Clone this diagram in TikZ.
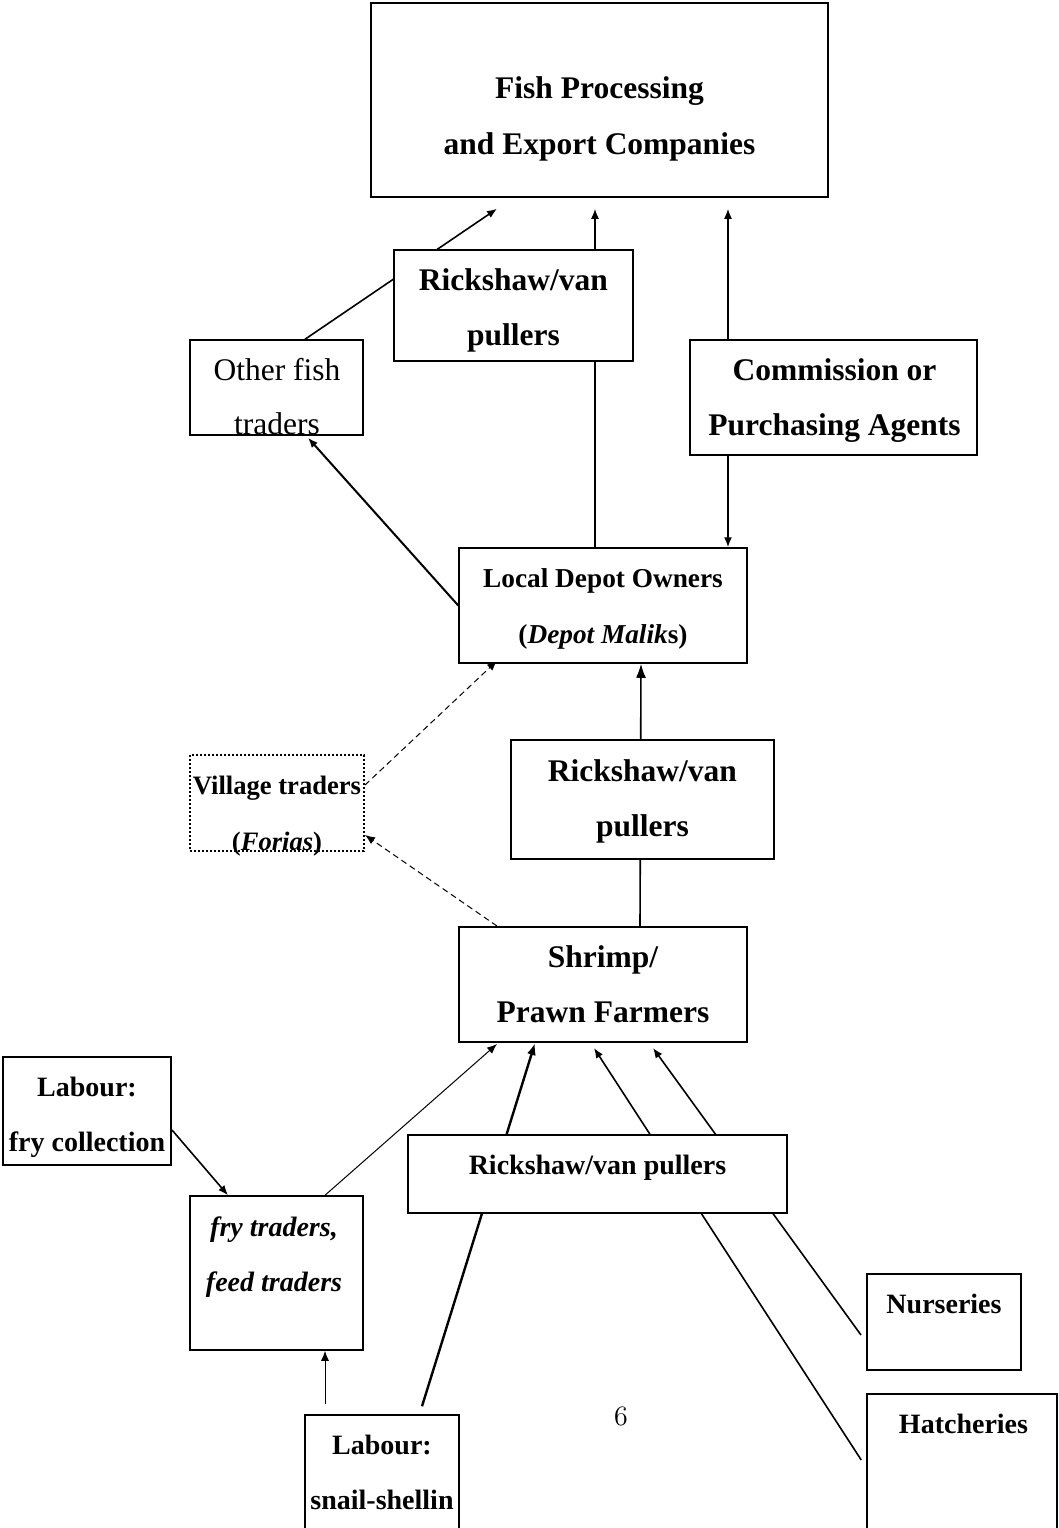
\documentclass[tikz,border=0pt]{standalone}
\usepackage{fontspec}
\setmainfont{Liberation Serif}
\newfontfamily\lmfont{Latin Modern Roman}
\usetikzlibrary{arrows.meta,calc,backgrounds}
\begin{document}
\begin{tikzpicture}[x=0.5pt,y=-0.5pt,
  box/.style={draw,line width=1pt,fill=white,rectangle,inner sep=0pt},
  thinbox/.style={box,line width=0.75pt},
  dotbox/.style={box,line width=1pt,dash pattern=on 1pt off 1pt},
  big/.style={anchor=base,inner sep=0pt,font=\bfseries\fontsize{15.75}{18}\selectfont},
  reg/.style={anchor=base,inner sep=0pt,font=\fontsize{15.75}{18}\selectfont},
  mid/.style={anchor=base,inner sep=0pt,font=\bfseries\fontsize{14}{16}\selectfont},
  dep/.style={anchor=base,inner sep=0pt,font=\bfseries\fontsize{13.65}{16}\selectfont},
  vil/.style={anchor=base,inner sep=0pt,font=\bfseries\fontsize{13.3}{16}\selectfont},
  conn/.style={line width=0.8pt},
  arr/.style={conn,-{Latex[length=5pt,width=4pt]}},
  bigarr/.style={conn,-{Latex[length=7pt,width=5pt]}},
  thinarr/.style={arr,line width=0.5pt},
  thickarr/.style={conn,line width=1.2pt,-{Latex[length=6pt,width=4.5pt]}},
  dasharr/.style={arr,line width=0.5pt,dash pattern=on 3pt off 2pt}
]
\useasboundingbox (0,0) rectangle (1059,1528);
\clip (0,0) rectangle (1059,1528);

% boxes
\node[thinbox,minimum width=228.5pt,minimum height=97pt] (fish) at (599.5,100) {};
\node[box,minimum width=119.5pt,minimum height=55.5pt] (rick1) at (513.5,305.5) {};
\node[thinbox,minimum width=86.5pt,minimum height=47.5pt] (other) at (276.5,387.5) {};
\node[box,minimum width=143.5pt,minimum height=57.5pt] (comm) at (833.5,397.5) {};
\node[thinbox,minimum width=144pt,minimum height=57.5pt] (depot) at (603,605.5) {};
\node[dotbox,minimum width=87pt,minimum height=48pt] (village) at (277,803) {};
\node[box,minimum width=131.5pt,minimum height=59.5pt] (rick2) at (642.5,799.5) {};
\node[box,minimum width=144pt,minimum height=57.5pt] (shrimp) at (603,984.5) {};
\node[box,minimum width=84pt,minimum height=54pt] (labfry) at (87,1111) {};
\node[box,minimum width=189.5pt,minimum height=39pt] (rick3) at (597.5,1174) {};
\node[thinbox,minimum width=86.5pt,minimum height=77pt] (frytr) at (276.5,1273) {};
\node[box,minimum width=77pt,minimum height=48pt] (nurs) at (944,1322) {};
\node[thinbox,minimum width=95pt,minimum height=73pt] (hatch) at (962,1467) {};
\node[thinbox,minimum width=77pt,minimum height=62.5pt] (labsnail) at (382,1477.5) {};

% connectors
\begin{scope}[on background layer]
\draw[arr] ($(other.north)+(28.5,0)$) -- ($(fish.south)+(-102.5,11)$);
\draw[arr] ($(depot.north)+(-8,0)$) -- ($(fish.south)+(-4.5,11)$);
\draw[arr] ($(comm.north)+(-105.5,0)$) -- ($(fish.south)+(128.5,11)$);
\draw[arr] ($(comm.south)+(-105.5,0)$) -- ($(depot.north)+(125,0)$);
\draw[arr,line width=1pt] (depot.west) -- ($(other.south)+(31.5,2)$);
\draw[dasharr] ($(village.east)+(0,-18)$) -- ($(depot.south)+(-106,-3)$);
\draw[dasharr] ($(shrimp.north)+(-106,0)$) -- ($(village.east)+(0,32)$);
\draw[bigarr] ($(shrimp.north)+(37,0)$) -- ($(depot.south)+(38,0)$);
\draw[thinarr] ($(frytr.north)+(48.5,0)$) -- ($(shrimp.south)+(-106,1)$);
\draw[thickarr] ($(labsnail.north)+(40,-8)$) -- ($(shrimp.south)+(-68,0)$);
\draw[arr] ($(hatch.west)+(-5,-7)$) -- ($(shrimp.south)+(-9,5)$);
\draw[arr] ($(nurs.west)+(-5,13)$) -- ($(shrimp.south)+(50,5)$);
\draw[arr] ($(labfry.east)+(0,19)$) -- ($(frytr.north)+(-48.5,0)$);
\draw[thinarr] ($(labsnail.north)+(-57,-10)$) -- ($(frytr.south)+(48.5,0)$);
\end{scope}

% texts
\node[big] (fishA) at (599.5,98) {Fish Processing};
\node[big] (fishB) at (599.5,154) {and Export Companies};
\node[big] (rick1A) at (513.5,290) {Rickshaw/van};
\node[big] (rick1B) at (513.5,345) {pullers};
\node[reg] (otherA) at (277,380) {Other fish};
\node[reg] (otherB) at (277,434) {traders};
\node[big] (commA) at (834.5,380) {Commission or};
\node[big] (commB) at (834.5,435) {Purchasing Agents};
\node[dep] (depotA) at (603,587) {Local Depot Owners};
\node[dep] (depotB) at (603,643) {(\textit{Depot Malik}s)};
\node[vil] (villA) at (277,794) {Village traders};
\node[vil] (villB) at (277,850) {(\textit{Forias})};
\node[big] (rick2A) at (642.5,781) {Rickshaw/van};
\node[big] (rick2B) at (642.5,836) {pullers};
\node[big] (shrimpA) at (603,967) {Shrimp/};
\node[big] (shrimpB) at (603,1022) {Prawn Farmers};
\node[mid] (labfryA) at (87,1096) {Labour:};
\node[mid] (labfryB) at (87,1151) {fry collection};
\node[mid] (rick3A) at (597.5,1174) {Rickshaw/van pullers};
\node[mid] (frytrA) at (274,1236) {\textit{fry traders,}};
\node[mid] (frytrB) at (274,1291) {\textit{feed traders}};
\node[mid] (nursA) at (944,1313) {Nurseries};
\node[mid] (hatchA) at (963.5,1433) {Hatcheries};
\node[mid] (labsnailA) at (382,1454) {Labour:};
\node[mid] (labsnailB) at (382,1509) {snail-shellin};
\node[anchor=base,inner sep=0pt,font=\lmfont\fontsize{14}{16}\selectfont] (page) at (621,1425) {6};
\end{tikzpicture}
\end{document}
